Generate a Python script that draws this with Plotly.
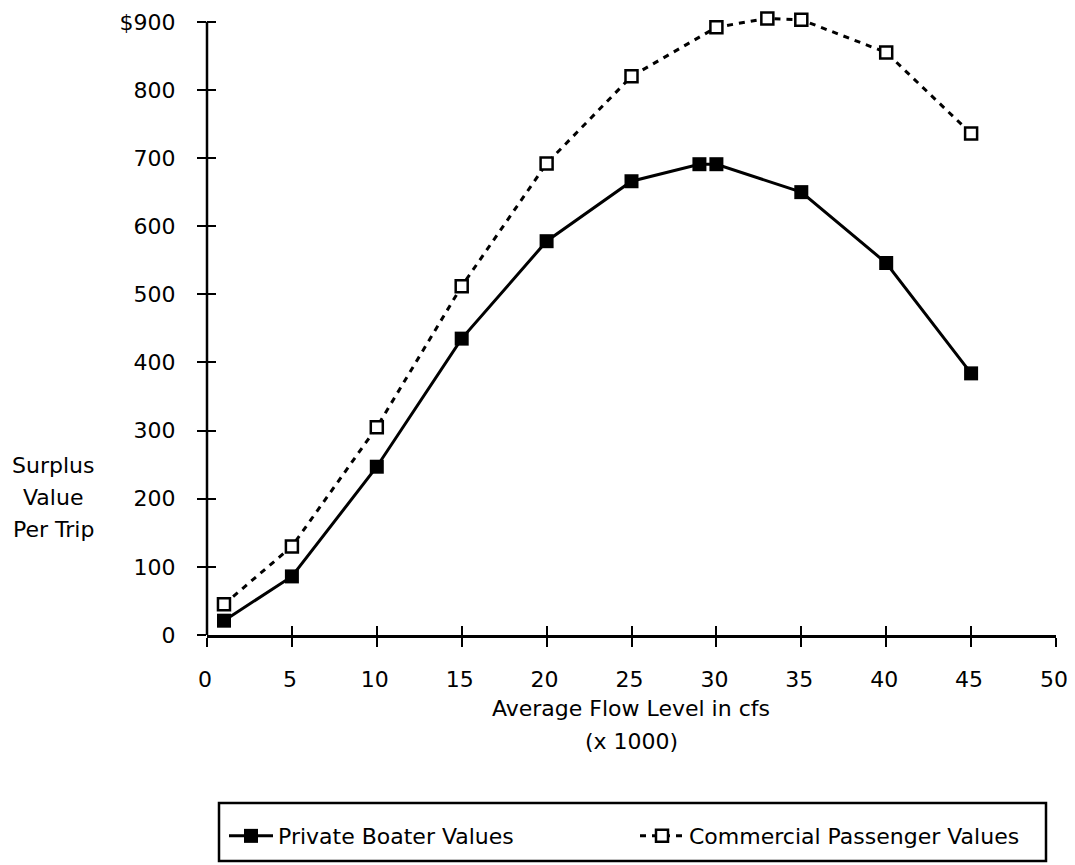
import plotly.graph_objects as go

# ---- data ----
private_x = [1, 5, 10, 15, 20, 25, 29, 30, 35, 40, 45]
private_y = [21, 86, 247, 435, 578, 666, 691, 691, 650, 546, 384]
commercial_x = [1, 5, 10, 15, 20, 25, 30, 33, 35, 40, 45]
commercial_y = [45, 130, 305, 512, 692, 820, 892, 905, 903, 855, 736]
x_ticks = [0, 5, 10, 15, 20, 25, 30, 35, 40, 45, 50]
y_ticks = [0, 100, 200, 300, 400, 500, 600, 700, 800, 900]
y_ticktext = ["0", "100", "200", "300", "400", "500", "600", "700", "800", "$900"]

FONT = "DejaVu Sans"
FS = 22
OFF = 8  # page body margin

W, H = 1067, 857
# page pixel targets
x0_page, x50_page = 207, 1056
y0_page, y900_page = 635, 22
YMAX = 910
L = x0_page - OFF
R = W - (x50_page - OFF)
B = H - (y0_page - OFF)
unit = (y0_page - y900_page) / 900.0
T = (y0_page - OFF) - YMAX * unit
ph = H - T - B
pw = W - L - R


def px_x(p):
    return (p - OFF - L) / pw


def px_y(p):
    return (H - B - (p - OFF)) / ph


fig = go.Figure()
fig.add_trace(go.Scatter(
    x=private_x, y=private_y, mode="lines+markers", name="Private Boater Values",
    line=dict(color="black", width=3),
    marker=dict(symbol="square", size=14, color="black"),
    cliponaxis=False,
))
fig.add_trace(go.Scatter(
    x=commercial_x, y=commercial_y, mode="lines+markers", name="Commercial Passenger Values",
    line=dict(color="black", width=3, dash="6px,6px"),
    marker=dict(symbol="square", size=12, color="white", line=dict(color="black", width=2.5)),
    cliponaxis=False,
))

fig.update_layout(
    width=W, height=H,
    margin=dict(l=L, r=R, t=T, b=B, autoexpand=False),
    plot_bgcolor="white", paper_bgcolor="white",
    font=dict(family=FONT, size=FS, color="black"),
    showlegend=True,
    legend=dict(
        orientation="h", x=px_x(224), y=px_y(836), xanchor="left", yanchor="middle",
        font=dict(family=FONT, size=FS, color="black"),
        entrywidth=352, entrywidthmode="pixels", itemwidth=44,
        bgcolor="rgba(0,0,0,0)", borderwidth=0,
    ),
    xaxis=dict(
        range=[0, 50], tickvals=x_ticks, ticks="outside", ticklen=9, tickwidth=2,
        tickcolor="black", showline=True, linecolor="black", linewidth=2.5,
        showgrid=False, zeroline=False, ticklabelstandoff=14, ticklabelshift=-2,
        ticklabeloverflow="allow",
        tickfont=dict(family=FONT, size=FS),
    ),
    yaxis=dict(
        range=[0, YMAX], tickvals=y_ticks, ticktext=y_ticktext, ticks="outside",
        ticklen=9, tickwidth=2, tickcolor="black", showline=False,
        showgrid=False, zeroline=False, ticklabelstandoff=17,
        tickfont=dict(family=FONT, size=FS),
    ),
    xaxis2=dict(
        overlaying="x", anchor="y", side="bottom", range=[0, 50], tickvals=x_ticks,
        ticks="inside", ticklen=9, tickwidth=2, tickcolor="black",
        showticklabels=False, showgrid=False, zeroline=False, showline=False,
    ),
    yaxis2=dict(
        overlaying="y", anchor="x", side="left", range=[0, YMAX], tickvals=y_ticks,
        ticks="inside", ticklen=9, tickwidth=2, tickcolor="black",
        showticklabels=False, showgrid=False, zeroline=False, showline=False,
    ),
)

# y-axis line from 0 to 900
fig.add_shape(type="line", xref="paper", yref="y", x0=0, x1=0, y0=0, y1=900,
              line=dict(color="black", width=2.5))

# legend box
fig.add_shape(type="rect", xref="paper", yref="paper",
              x0=px_x(219), x1=px_x(1046), y0=px_y(861), y1=px_y(803),
              line=dict(color="black", width=2.5), fillcolor="rgba(0,0,0,0)")

# axis titles
for txt, yp in [("Surplus", 466), ("Value", 498), ("Per Trip", 530)]:
    fig.add_annotation(text=txt, xref="paper", yref="paper", x=px_x(53), y=px_y(yp),
                       xanchor="center", yanchor="middle", showarrow=False,
                       font=dict(family=FONT, size=FS))
for txt, yp in [("Average Flow Level in cfs", 708), ("(x 1000)", 741)]:
    fig.add_annotation(text=txt, xref="paper", yref="paper", x=px_x(631), y=px_y(yp),
                       xanchor="center", yanchor="middle", showarrow=False,
                       font=dict(family=FONT, size=FS))

# dummy trace to activate overlay axes
fig.add_trace(go.Scatter(x=[None], y=[None], xaxis="x2", yaxis="y2", showlegend=False,
                         hoverinfo="skip"))

fig.write_html("out.html")
